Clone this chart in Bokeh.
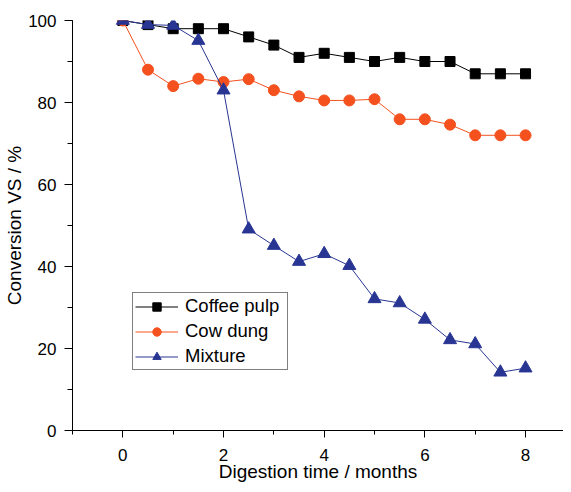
from bokeh.plotting import figure
from bokeh.models import Range1d, SingleIntervalTicker, Legend
from bokeh.embed import file_html
from bokeh.resources import INLINE

months = [0, 0.5, 1, 1.5, 2, 2.5, 3, 3.5, 4, 4.5, 5, 5.5, 6, 6.5, 7, 7.5, 8]
coffee_pulp = [100, 99, 98, 98, 98, 96, 94, 91, 92, 91, 90, 91, 90, 90, 87, 87, 87]
cow_dung = [100, 88, 84, 85.8, 85, 85.7, 83, 81.5, 80.5, 80.5, 80.8, 75.9, 75.9, 74.6, 72, 72, 72]
mixture = [100, 99, 98.8, 95.1, 83, 49.1, 45.1, 41.2, 43.1, 40.2, 32.1, 31.1, 27.1, 22.1, 21.1, 14.2, 15.2]

x_ticks_major = [0, 2, 4, 6, 8]
y_ticks_major = [0, 20, 40, 60, 80, 100]

FONT = "Liberation Sans"
BLACK = "#000000"
ORANGE = "#F4511E"
BLUE = "#283593"

p = figure(width=563, height=484, output_backend="svg", toolbar_location=None,
           x_range=Range1d(-1, 8.754), y_range=Range1d(0, 100),
           min_border_left=72, min_border_right=0, min_border_top=20, min_border_bottom=54)

p.outline_line_color = None
p.xgrid.visible = False
p.ygrid.visible = False
p.background_fill_color = "white"
p.border_fill_color = "white"

for ax in (p.xaxis[0], p.yaxis[0]):
    ax.axis_line_color = BLACK
    ax.axis_line_width = 1
    ax.major_tick_line_color = BLACK
    ax.minor_tick_line_color = BLACK
    ax.major_tick_in = 0
    ax.minor_tick_in = 0
    ax.major_label_text_font = FONT
    ax.major_label_text_font_size = "17px"
    ax.major_label_text_color = BLACK
    ax.axis_label_text_font = FONT
    ax.axis_label_text_font_size = "19px"
    ax.axis_label_text_font_style = "normal"
    ax.axis_label_text_color = BLACK

p.xaxis[0].ticker = SingleIntervalTicker(interval=2, num_minor_ticks=2)
p.yaxis[0].ticker = SingleIntervalTicker(interval=20, num_minor_ticks=2)
p.xaxis[0].major_tick_out = 7
p.xaxis[0].minor_tick_out = 4
p.yaxis[0].major_tick_out = 8
p.yaxis[0].minor_tick_out = 5
p.xaxis[0].major_label_standoff = 11
p.yaxis[0].major_label_standoff = 8
p.xaxis[0].axis_label = "Digestion time / months"
p.yaxis[0].axis_label = "Conversion VS / %"
p.xaxis[0].axis_label_standoff = -3
p.yaxis[0].axis_label_standoff = 0

l1 = p.line(months, coffee_pulp, line_color=BLACK, line_width=1)
s1 = p.scatter(months, coffee_pulp, marker="square", size=10, fill_color=BLACK, line_color=BLACK)
l2 = p.line(months, cow_dung, line_color=ORANGE, line_width=1)
s2 = p.scatter(months, cow_dung, marker="circle", size=11, fill_color=ORANGE, line_color=ORANGE)
l3 = p.line(months, mixture, line_color=BLUE, line_width=1)
s3 = p.scatter(months, mixture, marker="triangle", size=13, fill_color=BLUE, line_color=BLUE)

legend = Legend(items=[("Coffee pulp", [l1, s1]), ("Cow dung", [l2, s2]), ("Mixture", [l3, s3])],
                location=(60, 60), margin=0, padding=2, spacing=3,
                glyph_width=43, glyph_height=21, label_height=21, label_width=100, label_standoff=7,
                label_text_font=FONT, label_text_font_size="18.5px", label_text_color=BLACK,
                border_line_color=BLACK, border_line_width=1, background_fill_alpha=1)
p.add_layout(legend, "center")

open("out.html", "w").write(file_html(p, INLINE))
